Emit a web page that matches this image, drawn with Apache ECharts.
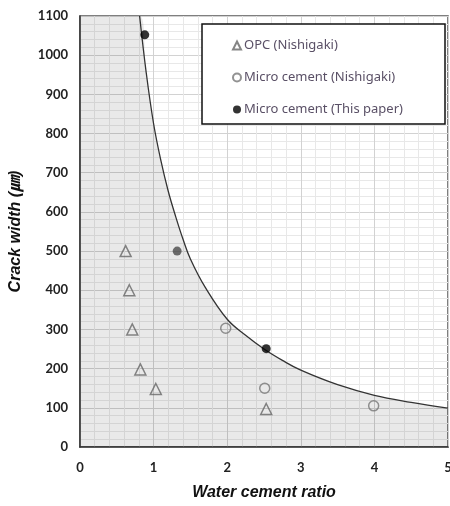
<!DOCTYPE html>
<html>
<head>
<meta charset="utf-8">
<script src="https://cdn.jsdelivr.net/npm/echarts@6/dist/echarts.min.js"></script>
<style>html,body{margin:0;padding:0;background:#fff}#c{width:450px;height:506px}</style>
</head>
<body>
<div id="c"></div>
<script>
// Data
const opcNishigaki = [[0.62, 500], [0.67, 400], [0.71, 300], [0.82, 198], [1.03, 148], [2.53, 97]];
const microNishigaki = [[1.98, 303], [2.51, 150], [3.99, 105]];
const microThisPaper = [[0.88, 1052], [1.32, 500], [2.53, 251]];
const curveX = [0.81, 0.9, 1.0, 1.1, 1.2, 1.3, 1.4, 1.5, 1.7, 2.0, 2.25, 2.5, 2.75, 3.0, 3.5, 4.0, 4.5, 5.0];
const curveY = [1100, 955, 825, 730, 652, 588, 530, 480, 408, 326, 285, 250, 221, 196, 159, 132, 114, 99];
const xTicks = [0, 1, 2, 3, 4, 5];
const yMax = 1100;

const curve = curveX.map((x, i) => [x, curveY[i]]);
const fill = [[0, yMax]].concat(curve);

const chart = echarts.init(document.getElementById('c'));
const tickFont = { fontFamily: 'Lato', fontWeight: 'bold', fontSize: 13, color: '#222' };
chart.setOption({
  animation: false,
  grid: { left: 80, right: 2, top: 16, bottom: 59, containLabel: false, outerBoundsMode: 'none',
          show: true, borderColor: '#555', borderWidth: 1.5 },
  xAxis: {
    type: 'value', min: xTicks[0], max: xTicks[xTicks.length - 1], interval: 1,
    name: 'Water cement ratio', nameLocation: 'middle', nameGap: 38,
    nameTextStyle: { fontFamily: 'Liberation Sans', fontWeight: 'bold', fontStyle: 'italic', fontSize: 16, color: '#111' },
    axisLine: { lineStyle: { color: '#333', width: 1.5 } },
    axisTick: { show: false },
    axisLabel: Object.assign({ margin: 14, formatter: v => String(v) }, tickFont),
    splitLine: { lineStyle: { color: '#d2d2d2', width: 1 } },
    minorTick: { show: false, splitNumber: 5 },
    minorSplitLine: { show: true, lineStyle: { color: '#e8e8e8', width: 1 } }
  },
  yAxis: {
    type: 'value', min: 0, max: yMax, interval: 100,
    name: 'Crack width (㎛)', nameLocation: 'middle', nameGap: 56,
    nameTextStyle: { fontFamily: 'Liberation Sans, Noto Sans CJK KR', fontWeight: 'bold', fontStyle: 'italic', fontSize: 16, color: '#111' },
    axisLine: { show: true, lineStyle: { color: '#333', width: 1.5 } },
    axisTick: { show: false },
    axisLabel: Object.assign({ margin: 12, formatter: v => String(v) }, tickFont),
    splitLine: { lineStyle: { color: '#d2d2d2', width: 1 } },
    minorTick: { show: false, splitNumber: 5 },
    minorSplitLine: { show: true, lineStyle: { color: '#e8e8e8', width: 1 } }
  },
  graphic: [{
    type: 'rect', z: 10,
    shape: { x: 202, y: 24, width: 243, height: 100 },
    style: { fill: '#fff', stroke: '#111', lineWidth: 1.5 }
  }],
  legend: {
    z: 20, orient: 'vertical', left: 227, top: 34, itemGap: 19,
    itemWidth: 8, itemHeight: 8,
    textStyle: { fontFamily: 'Noto Sans', fontSize: 13, color: '#5a5066', padding: [0, 0, 0, -2] },
    data: ['OPC (Nishigaki)', 'Micro cement (Nishigaki)', 'Micro cement (This paper)']
  },
  series: [
    {
      type: 'line', name: 'fill', data: fill, smooth: 0.4, symbol: 'none', silent: true,
      lineStyle: { width: 0, opacity: 0 },
      areaStyle: { color: 'rgba(0,0,0,0.12)', origin: 'start' }, z: 1
    },
    {
      type: 'line', name: 'curve', data: curve, smooth: 0.4, symbol: 'none', silent: true,
      lineStyle: { color: '#333', width: 1.3 }, z: 2
    },
    {
      type: 'scatter', name: 'OPC (Nishigaki)', data: opcNishigaki, symbol: 'triangle', symbolSize: 11,
      itemStyle: { color: 'rgba(0,0,0,0)', borderColor: '#666', borderWidth: 1.5 }, z: 5
    },
    {
      type: 'scatter', name: 'Micro cement (Nishigaki)', data: microNishigaki, symbol: 'circle', symbolSize: 10,
      itemStyle: { color: 'rgba(0,0,0,0)', borderColor: '#777', borderWidth: 1.5 }, z: 5
    },
    {
      type: 'scatter', name: 'Micro cement (This paper)', symbol: 'circle', symbolSize: 9,
      data: microThisPaper.map((p, i) => i === 1 ? { value: p, itemStyle: { color: '#4a4a4a' } } : p),
      itemStyle: { color: '#000' }, z: 5
    }
  ]
});
</script>
</body>
</html>
